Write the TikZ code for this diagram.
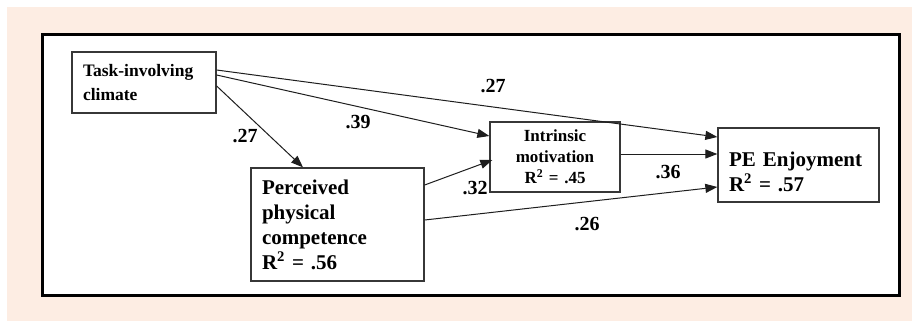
\documentclass[tikz,border=0pt]{standalone}
\usepackage{fontspec}
\setmainfont{Liberation Serif}
\usetikzlibrary{arrows.meta}
\definecolor{peach}{RGB}{253,237,227}
\definecolor{boxline}{RGB}{55,55,55}
\definecolor{arrline}{RGB}{30,30,30}
\newcommand{\rsq}{R\textsuperscript{2}}
\tikzset{
  box/.style={draw=boxline, line width=1.3pt, fill=white, inner sep=0pt, font=\bfseries},
  arr/.style={draw=arrline, line width=1pt, -{Triangle[length=12pt,width=9pt]}},
  coef/.style={font=\fontsize{20}{22}\selectfont\bfseries, inner sep=0pt}
}
\begin{document}
\begin{tikzpicture}[x=1pt,y=-1pt]
\useasboundingbox (0,0) rectangle (916,322);
\fill[peach] (7,7) rectangle (912,321);
\draw[black, line width=3pt, fill=white] (42.5,34.5) rectangle (899.5,295.5);

\node[box, minimum width=144pt, minimum height=61pt, text width=122pt, align=left,
  font=\fontsize{17.5}{24}\selectfont\bfseries] (task) at (144,82.5) {Task-involving\\climate};
\node[box, minimum width=173pt, minimum height=113pt, text width=151pt, align=left,
  font=\fontsize{21}{25}\selectfont\bfseries] (perc) at (337.5,224.5) {Perceived\\physical\\competence\\\rsq{} = .56};
\node[box, minimum width=130pt, minimum height=70pt, text width=110pt, align=center,
  font=\fontsize{17}{21}\selectfont\bfseries] (intr) at (555,157) {Intrinsic\\motivation\\\rsq{} = .45};
\node[box, minimum width=161pt, minimum height=74pt, text width=139pt, align=left,
  font=\fontsize{21}{25}\selectfont\bfseries] (pe) at (798.5,165) {\rule{0pt}{28pt}PE Enjoyment\\\rsq{} = .57};

\draw[arr] ([yshift=12.5pt]task.east) -- ([yshift=28pt]pe.west);
\draw[arr] ([yshift=7.5pt]task.east) -- ([yshift=21pt]intr.west);
\draw[arr] ([yshift=-3.5pt]task.east) -- ([xshift=-34.5pt]perc.north);
\draw[arr] ([yshift=39.5pt]perc.east) -- ([xshift=3pt,yshift=-3pt]intr.west);
\draw[arr] ([yshift=4.5pt]perc.east) -- ([yshift=-22pt]pe.west);
\draw[arr] ([yshift=3pt]intr.east) -- ([yshift=11pt]pe.west);

\node[coef] (l1) at (493,86) {.27};
\node[coef] (l2) at (358,122) {.39};
\node[coef] (l3) at (245,136) {.27};
\node[coef] (l4) at (475,188) {.32};
\node[coef] (l5) at (668,172) {.36};
\node[coef] (l6) at (587,224) {.26};
\end{tikzpicture}
\end{document}
